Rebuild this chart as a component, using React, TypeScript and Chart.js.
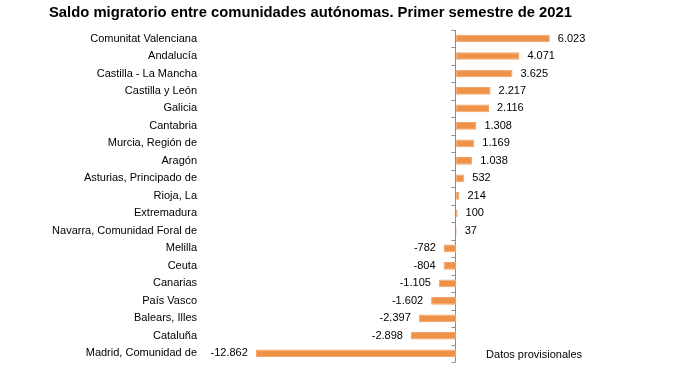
import React, { useEffect, useRef } from "react";
import { Chart, registerables } from "chart.js";

Chart.register(...registerables);

const TITLE = "Saldo migratorio entre comunidades autónomas. Primer semestre de 2021";
const NOTE = "Datos provisionales";
const categories = [
  "Comunitat Valenciana",
  "Andalucía",
  "Castilla - La Mancha",
  "Castilla y León",
  "Galicia",
  "Cantabria",
  "Murcia, Región de",
  "Aragón",
  "Asturias, Principado de",
  "Rioja, La",
  "Extremadura",
  "Navarra, Comunidad Foral de",
  "Melilla",
  "Ceuta",
  "Canarias",
  "País Vasco",
  "Balears, Illes",
  "Cataluña",
  "Madrid, Comunidad de",
];
const values = [6023, 4071, 3625, 2217, 2116, 1308, 1169, 1038, 532, 214, 100, 37, -782, -804, -1105, -1602, -2397, -2898, -12862];

const FONT = "'Liberation Sans', Arial, sans-serif";

function fmt(v: number): string {
  const s = Math.abs(v).toString().replace(/\B(?=(\d{3})+(?!\d))/g, ".");
  return (v < 0 ? "-" : "") + s;
}

const axisLine = {
  id: "axisLine",
  beforeDatasetsDraw(chart: any) {
    const ctx = chart.ctx;
    const x = chart.scales.x;
    const y = chart.scales.y;
    const area = chart.chartArea;
    const x0 = Math.round(x.getPixelForValue(0)) - 0.5;
    ctx.save();
    ctx.strokeStyle = "#8c8c8c";
    ctx.lineWidth = 1;
    ctx.beginPath();
    ctx.moveTo(x0, area.top);
    ctx.lineTo(x0, area.bottom);
    const n = categories.length;
    for (let i = 0; i <= n; i++) {
      const py = Math.round(y.getPixelForValue(i - 0.5)) + 0.5;
      ctx.moveTo(x0 - 4, py);
      ctx.lineTo(x0, py);
    }
    ctx.stroke();
    ctx.restore();
  },
};

const overlay = {
  id: "overlay",
  afterDatasetsDraw(chart: any) {
    const ctx = chart.ctx;
    const x = chart.scales.x;
    const y = chart.scales.y;
    const x0 = x.getPixelForValue(0);
    const n = categories.length;
    const meta = chart.getDatasetMeta(0);
    ctx.save();
    ctx.fillStyle = "#000";
    ctx.font = `11px ${FONT}`;
    ctx.textBaseline = "middle";
    meta.data.forEach((bar: any, i: number) => {
      const v = values[i];
      if (v >= 0) {
        ctx.textAlign = "left";
        ctx.fillText(fmt(v), bar.x + 8, bar.y);
      } else {
        ctx.textAlign = "right";
        ctx.fillText(fmt(v), bar.x - 8, bar.y);
      }
    });
    ctx.textAlign = "left";
    ctx.fillText(NOTE, x0 + 30, y.getPixelForValue(n - 1) + 2);
    ctx.restore();
  },
};

export default function App() {
  const ref = useRef<HTMLCanvasElement | null>(null);
  useEffect(() => {
    if (!ref.current) return;
    const chart = new Chart(ref.current, {
      type: "bar",
      data: {
        labels: categories,
        datasets: [
          {
            data: values,
            backgroundColor: "#EF9247",
            borderColor: "#F3A468",
            borderWidth: 1,
            borderSkipped: false,
            barPercentage: 0.44,
            categoryPercentage: 1,
          },
        ],
      },
      options: {
        indexAxis: "y",
        responsive: false,
        animation: false,
        layout: { padding: { left: 49, right: 16, top: 0, bottom: 29 } },
        plugins: {
          legend: { display: false },
          tooltip: { enabled: false },
          title: {
            display: true,
            text: TITLE,
            align: "start",
            color: "#000",
            font: { family: FONT, size: 14.8, weight: "bold" },
            padding: { top: 4, bottom: 8 },
          },
        },
        scales: {
          x: {
            display: false,
            min: -16000,
            max: 14000,
          },
          y: {
            grid: { display: false, drawTicks: false },
            border: { display: false },
            ticks: {
              color: "#000",
              font: { family: FONT, size: 11 },
              padding: 10,
            },
            afterFit(scale: any) {
              scale.width = 158;
            },
          },
        },
      },
      plugins: [axisLine, overlay],
    });
    return () => chart.destroy();
  }, []);
  return (
    <div style={{ position: "fixed", left: 0, top: 0, width: 690, height: 391, background: "#fff" }}>
      <canvas ref={ref} width={690} height={391} style={{ width: 690, height: 391 }} />
    </div>
  );
}
